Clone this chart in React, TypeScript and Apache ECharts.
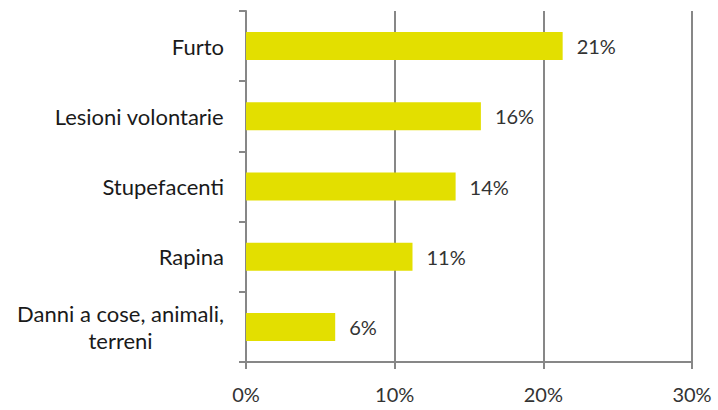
import React, { useEffect, useRef } from "react";
import * as echarts from "echarts";

const categories = [
  "Furto",
  "Lesioni volontarie",
  "Stupefacenti",
  "Rapina",
  "Danni a cose, animali,\nterreni",
];
const values = [21.3, 15.8, 14.1, 11.2, 6.0];
const xTicks = [0, 10, 20, 30];

const GRAY = "#878787";
const FONT = "Lato";

export default function App() {
  const ref = useRef<HTMLDivElement>(null);
  useEffect(() => {
    document.body.style.margin = "0";
    const chart = echarts.init(ref.current!, null, { renderer: "svg" });
    chart.setOption({
      animation: false,
      backgroundColor: "#ffffff",
      grid: {
        left: 246,
        right: 26,
        top: 11,
        bottom: 48,
        containLabel: false,
        outerBoundsMode: "none",
      },
      xAxis: {
        type: "value",
        min: xTicks[0],
        max: xTicks[xTicks.length - 1],
        interval: 10,
        axisLine: { show: true, lineStyle: { color: GRAY, width: 2 } },
        axisTick: { show: true, length: 7, lineStyle: { color: GRAY, width: 2 } },
        splitLine: { show: true, lineStyle: { color: GRAY, width: 2 } },
        axisLabel: {
          formatter: (v: number) => v + "%",
          fontFamily: FONT,
          fontSize: 20,
          color: "#333333",
          margin: 22,
        },
      },
      yAxis: {
        type: "category",
        inverse: true,
        data: categories,
        axisLine: { show: true, lineStyle: { color: GRAY, width: 2 } },
        axisTick: { show: true, length: 7, lineStyle: { color: GRAY, width: 2 } },
        splitLine: { show: false },
        axisLabel: {
          margin: 22,
          formatter: (v: string) =>
            v
              .split("\n")
              .map((s) => "{c|" + s + "}")
              .join("\n"),
          rich: {
            c: {
              align: "center",
              fontFamily: FONT,
              fontSize: 22,
              lineHeight: 27,
              color: "#1a1a1a",
            },
          },
        },
      },
      series: [
        {
          type: "bar",
          data: values,
          barWidth: 28,
          itemStyle: { color: "#e3df00" },
          label: {
            show: true,
            position: "right",
            distance: 14,
            formatter: (p: any) => Math.round(p.value) + "%",
            fontFamily: FONT,
            fontSize: 20,
            color: "#333333",
          },
        },
      ],
    });
    return () => chart.dispose();
  }, []);
  return (
    <div
      ref={ref}
      style={{ position: "absolute", left: 0, top: 0, width: 718, height: 410 }}
    />
  );
}
